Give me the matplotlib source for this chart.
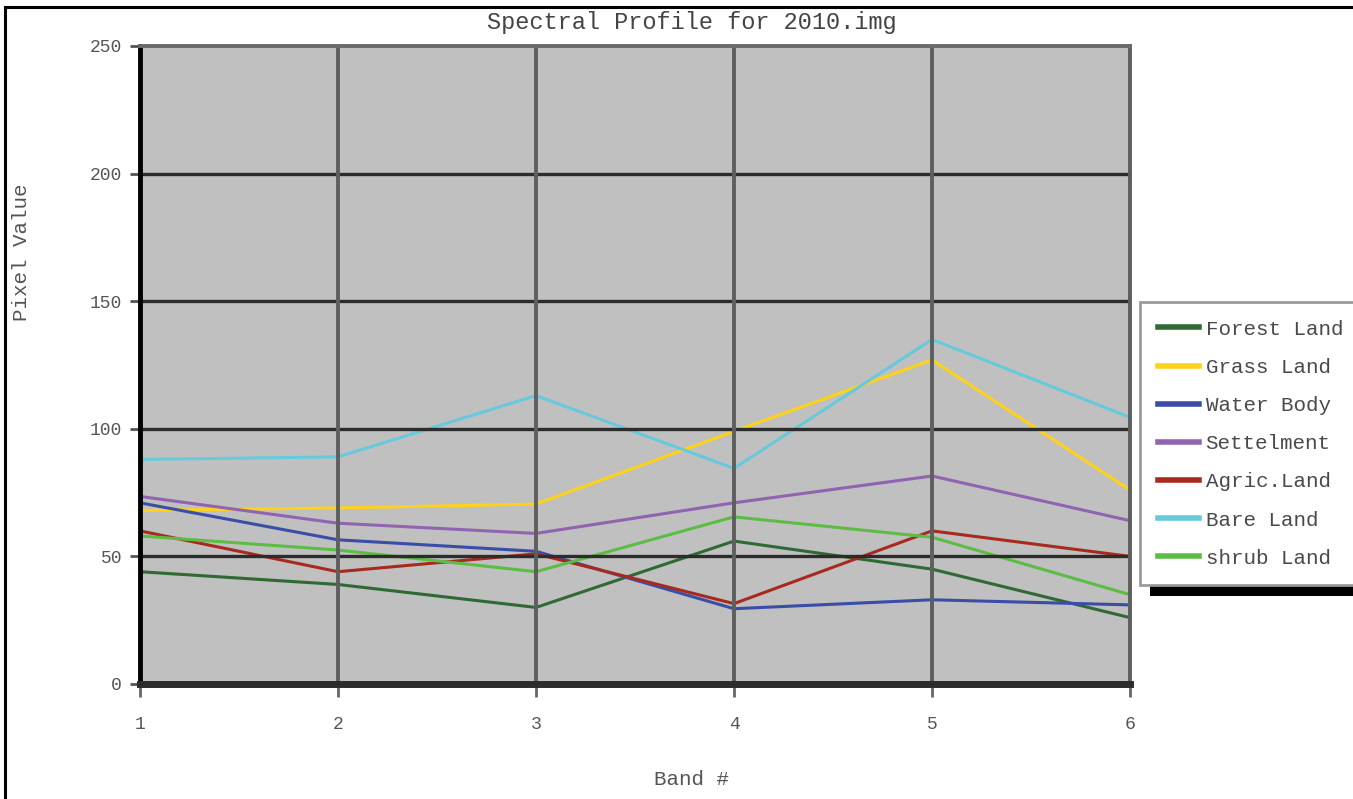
import matplotlib
matplotlib.use("Agg")
import matplotlib.pyplot as plt
from matplotlib.patches import Rectangle

bands = [1, 2, 3, 4, 5, 6]
forest_land = [44, 39, 30, 56, 45, 26]
grass_land = [68, 69, 70.5, 99, 127, 76]
water_body = [71, 56.5, 52, 29.5, 33, 31]
settlement = [73.5, 63, 59, 71, 81.5, 64]
agric_land = [60, 44, 51, 31.5, 60, 50]
bare_land = [88, 89, 113, 84.5, 135, 104.5]
shrub_land = [58, 52.5, 44, 65.5, 57.5, 35]

series_names = ["Forest Land", "Grass Land", "Water Body", "Settelment",
                "Agric.Land", "Bare Land", "shrub Land"]
series_values = [forest_land, grass_land, water_body, settlement,
                 agric_land, bare_land, shrub_land]
series_colors = ["#2f6a35", "#ffd21a", "#3a4ea8", "#9064b0",
                 "#a82a1e", "#66cadc", "#5cbd45"]

yticks = [0, 50, 100, 150, 200, 250]
ytick_labels = ["0", "50", "100", "150", "200", "250"]

W, H = 1353, 799
fig = plt.figure(figsize=(W / 100, H / 100), dpi=100)
fig.patch.set_facecolor("white")

mono = "Liberation Mono"
tcol = "#555555"

ax = fig.add_axes([140 / W, 1 - 684 / H, 990 / W, (684 - 46) / H])
ax.set_facecolor("#c0c0c0")

for name, vals, col in zip(series_names, series_values, series_colors):
    ax.plot(bands, vals, color=col, lw=2.2, label=name, zorder=2)

ax.set_xlim(1, 6)
ax.set_ylim(0, 250)
ax.set_xticks(bands)
ax.set_xticklabels([str(b) for b in bands], family=mono, fontsize=13, color=tcol)
ax.set_yticks(yticks)
ax.set_yticklabels(ytick_labels, family=mono, fontsize=13, color=tcol)

# grid
for yv in [50, 100, 150, 200]:
    ax.axhline(yv, color="#2c2c2c", lw=2.4, zorder=3)
for xv in [2, 3, 4, 5]:
    ax.axvline(xv, color="#5e5e5e", lw=2.8, zorder=3)

for s in ax.spines.values():
    s.set_zorder(4)
ax.spines["left"].set_color("black")
ax.spines["left"].set_linewidth(3.5)
ax.spines["bottom"].set_color("#2c2c2c")
ax.spines["bottom"].set_linewidth(5)
ax.spines["top"].set_color("#6a6a6a")
ax.spines["top"].set_linewidth(2.8)
ax.spines["right"].set_color("#5e5e5e")
ax.spines["right"].set_linewidth(2.8)

ax.tick_params(axis="y", length=7, width=2, color="#555555", pad=6)
ax.tick_params(axis="x", length=9, width=2, color="#666666", pad=14)

ax.set_ylabel("Pixel Value", family=mono, fontsize=15, color=tcol)
ax.yaxis.set_label_coords((31 - 140) / 990, (684 - 252) / 638)
ax.set_xlabel("Band #", family=mono, fontsize=15, color=tcol)
ax.xaxis.set_label_coords((692 - 140) / 990, (684 - 770) / 638)

fig.text(692 / W, 1 - 22 / H, "Spectral Profile for 2010.img", family=mono,
         fontsize=17, color="#444444", ha="center", va="center")

leg = ax.legend(loc="upper left", bbox_to_anchor=(1140 / W, 1 - 302 / H),
                bbox_transform=fig.transFigure, prop={"family": mono, "size": 15},
                frameon=True, fancybox=False, borderaxespad=0,
                handlelength=2.0, handletextpad=0.3, labelspacing=0.92,
                borderpad=0.85, framealpha=1)
leg.get_frame().set_edgecolor("#9a9a9a")
leg.get_frame().set_linewidth(2)
for t in leg.get_texts():
    t.set_color("#4a4a4a")
for l in leg.get_lines():
    l.set_linewidth(4)

# legend shadow
fig.patches.append(Rectangle((1150 / W, 1 - 596 / H), 210 / W, 281 / H,
                             transform=fig.transFigure, facecolor="black",
                             edgecolor="none", zorder=-1))

# figure frame
fig.patches.append(Rectangle((5 / W, -0.05), 1.2, 1 - 7 / H + 0.05,
                             transform=fig.transFigure, facecolor="none",
                             edgecolor="black", lw=2.2, zorder=10))

fig.savefig("out.png", dpi=100)
